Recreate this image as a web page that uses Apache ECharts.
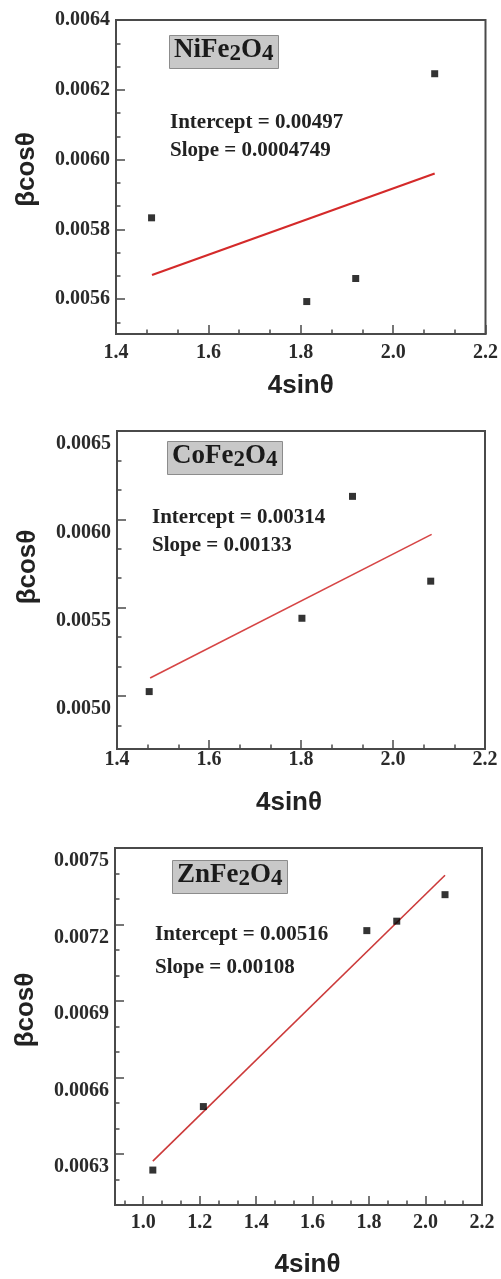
<!DOCTYPE html>
<html><head><meta charset="utf-8">
<script src="https://cdn.jsdelivr.net/npm/echarts@6/dist/echarts.min.js"></script>
<style>html,body{margin:0;padding:0;background:#fff}#c{width:501px;height:1279px}</style>
</head><body><div id="c"></div>
<script>
// ---------- Panel 1: NiFe2O4 ----------
const niX = [1.477, 1.813, 1.919, 2.090];
const niY = [0.005833, 0.005593, 0.005659, 0.006246];
const niFitX = [1.478, 2.090];
const niFitY = [0.005669, 0.005960];
const niXTicks = [1.4, 1.6, 1.8, 2.0, 2.2];
const niYTicks = [0.0056, 0.0058, 0.0060, 0.0062, 0.0064];
const niXRange = [1.4, 2.2];
const niYRange = [0.0055, 0.0064];

// ---------- Panel 2: CoFe2O4 ----------
const coX = [1.470, 1.802, 1.912, 2.082];
const coY = [0.005025, 0.005440, 0.006130, 0.005650];
const coFitX = [1.472, 2.084];
const coFitY = [0.005102, 0.005915];
const coXTicks = [1.4, 1.6, 1.8, 2.0, 2.2];
const coYTicks = [0.0050, 0.0055, 0.0060, 0.0065];
const coXRange = [1.4, 2.2];
const coYRange = [0.0047, 0.0065];

// ---------- Panel 3: ZnFe2O4 ----------
const znX = [1.034, 1.213, 1.792, 1.898, 2.069];
const znY = [0.006237, 0.006486, 0.007176, 0.007213, 0.007317];
const znFitX = [1.034, 2.069];
const znFitY = [0.006272, 0.007393];
const znXTicks = [1.0, 1.2, 1.4, 1.6, 1.8, 2.0, 2.2];
const znYTicks = [0.0063, 0.0066, 0.0069, 0.0072, 0.0075];
const znXRange = [0.9, 2.2];
const znYRange = [0.0061, 0.0075];

// ---------- Texts ----------
const compoundNames = ['NiFe', 'CoFe', 'ZnFe'];
const interceptTexts = ['Intercept = 0.00497', 'Intercept = 0.00314', 'Intercept = 0.00516'];
const slopeTexts = ['Slope = 0.0004749', 'Slope = 0.00133', 'Slope = 0.00108'];
const xTitle = '4sinθ';
const yTitle = 'βcosθ';

function minors(ticks, range, n) {
  const step = (ticks[1] - ticks[0]) / n;
  let v = ticks[0];
  while (v - step >= range[0] - 1e-12) v -= step;
  const out = [];
  for (; v <= range[1] + 1e-12; v += step) {
    if (!ticks.some(t => Math.abs(t - v) < step / 10)) out.push(v);
  }
  return out;
}

const SERIF = 'Liberation Serif';
const SANS = 'Liberation Sans';
const FRAME = '#4a4a4a';

const panels = [
  { x: niX, y: niY, fx: niFitX, fy: niFitY, xt: niXTicks, yt: niYTicks, xr: niXRange, yr: niYRange,
    grid: { left: 116, top: 20, width: 371, height: 314 }, lineColor: '#d42a2a', lineW: 2.2,
    yLabVA: 'middle', yLabPad: 0, xLabMargin: 9, xNameGap: 39, xNamePad: [0,0,0,0], yNamePad: [0,0,0,15] },
  { x: coX, y: coY, fx: coFitX, fy: coFitY, xt: coXTicks, yt: coYTicks, xr: coXRange, yr: coYRange,
    grid: { left: 117, top: 431, width: 368, height: 318 }, lineColor: '#d64545', lineW: 1.6,
    yLabVA: 'top', yLabPad: 3, xLabMargin: 1, xNameGap: 41, xNamePad: [0,24,0,0], yNamePad: [0,0,0,46] },
  { x: znX, y: znY, fx: znFitX, fy: znFitY, xt: znXTicks, yt: znYTicks, xr: znXRange, yr: znYRange,
    grid: { left: 115, top: 848, width: 367, height: 357 }, lineColor: '#cc3a3a', lineW: 1.6,
    yLabVA: 'top', yLabPad: 3, xLabMargin: 8, xNameGap: 47, xNamePad: [0,0,0,18], yNamePad: [0,0,0,33] }
];

const grids = [], xAxes = [], yAxes = [], series = [];
panels.forEach((p, i) => {
  grids.push(Object.assign({ show: true, borderColor: FRAME, borderWidth: 2, backgroundColor: 'transparent' }, p.grid));
  // major x
  xAxes.push({
    type: 'value', gridIndex: i, position: 'bottom', min: p.xr[0], max: p.xr[1],
    axisLine: { show: true, lineStyle: { color: FRAME, width: 2 } },
    splitLine: { show: false },
    axisTick: { show: true, inside: true, length: 9, customValues: p.xt, lineStyle: { color: FRAME, width: 1.5 } },
    axisLabel: { show: true, customValues: p.xt, margin: p.xLabMargin, formatter: v => v.toFixed(1),
      fontFamily: SERIF, fontWeight: 'bold', fontSize: 20, color: '#2a2a2a' },
    name: xTitle, nameLocation: 'middle', nameGap: p.xNameGap,
    nameTextStyle: { fontFamily: SANS, fontWeight: 'bold', fontSize: 26, color: '#222', padding: p.xNamePad }
  });
  // minor x
  xAxes.push({
    type: 'value', gridIndex: i, position: 'bottom', offset: 0, min: p.xr[0], max: p.xr[1],
    axisLine: { show: false }, splitLine: { show: false }, axisLabel: { show: false },
    axisTick: { show: true, inside: true, length: 4.5, customValues: minors(p.xt, p.xr, 3), lineStyle: { color: FRAME, width: 1.5 } }
  });
  // major y
  yAxes.push({
    type: 'value', gridIndex: i, position: 'left', min: p.yr[0], max: p.yr[1],
    axisLine: { show: true, lineStyle: { color: FRAME, width: 2 } },
    splitLine: { show: false },
    axisTick: { show: true, inside: true, length: 9, customValues: p.yt, lineStyle: { color: FRAME, width: 1.5 } },
    axisLabel: { show: true, customValues: p.yt, margin: 6, formatter: v => v.toFixed(4),
      fontFamily: SERIF, fontWeight: 'bold', fontSize: 20, color: '#2a2a2a', verticalAlign: p.yLabVA,
      padding: [p.yLabPad, 0, 0, 0] },
    name: yTitle, nameLocation: 'middle', nameGap: 76, nameRotate: 90,
    nameTextStyle: { fontFamily: SANS, fontWeight: 'bold', fontSize: 26, color: '#222', padding: p.yNamePad }
  });
  // minor y
  yAxes.push({
    type: 'value', gridIndex: i, position: 'left', offset: 0, min: p.yr[0], max: p.yr[1],
    axisLine: { show: false }, splitLine: { show: false }, axisLabel: { show: false },
    axisTick: { show: true, inside: true, length: 4.5, customValues: minors(p.yt, p.yr, 3), lineStyle: { color: FRAME, width: 1.5 } }
  });
  series.push({
    type: 'line', xAxisIndex: 2 * i, yAxisIndex: 2 * i, symbol: 'none', silent: true,
    data: p.fx.map((v, k) => [v, p.fy[k]]),
    lineStyle: { color: p.lineColor, width: p.lineW }, z: 2
  });
  series.push({
    type: 'scatter', xAxisIndex: 2 * i, yAxisIndex: 2 * i, symbol: 'rect', symbolSize: 7,
    data: p.x.map((v, k) => [v, p.y[k]]),
    itemStyle: { color: '#000' }, z: 3
  });
});

const boxPos = [ { left: 169, top: 33 }, { left: 167, top: 439 }, { left: 172, top: 858 } ];
const annPos = [ { left: 170, top: 109, lh: 28 }, { left: 152, top: 504, lh: 28 }, { left: 155, top: 918, lh: 33 } ];
const titles = [];
compoundNames.forEach((c, i) => {
  titles.push({
    left: boxPos[i].left, top: boxPos[i].top,
    text: '{m|' + c + '}{s|2}{m|O}{s|4}',
    backgroundColor: '#c8c8c8', borderColor: '#8c8c8c', borderWidth: 1, padding: [1, 5, 3, 5],
    textStyle: { rich: {
      m: { fontFamily: SERIF, fontWeight: 'bold', fontSize: 27, color: '#1a1a1a', lineHeight: 32 },
      s: { fontFamily: SERIF, fontWeight: 'bold', fontSize: 23, color: '#1a1a1a', lineHeight: 18, verticalAlign: 'bottom' }
    } }
  });
  titles.push({
    left: annPos[i].left, top: annPos[i].top, padding: 0,
    text: interceptTexts[i] + '\n' + slopeTexts[i],
    textStyle: { fontFamily: SERIF, fontWeight: 'bold', fontSize: 21, color: '#222', lineHeight: annPos[i].lh }
  });
});

const chart = echarts.init(document.getElementById('c'), null, { renderer: 'canvas' });
chart.setOption({
  animation: false,
  backgroundColor: '#fff',
  title: titles,
  grid: grids,
  xAxis: xAxes,
  yAxis: yAxes,
  series: series
});
</script></body></html>
